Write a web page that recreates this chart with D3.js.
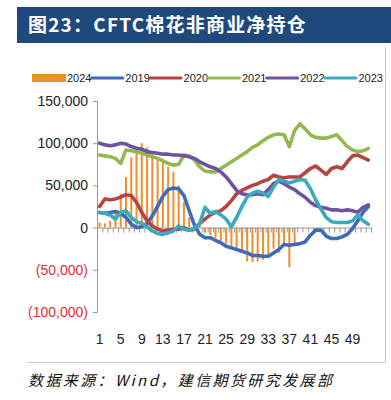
<!DOCTYPE html>
<html>
<head>
<meta charset="utf-8">
<script src="https://cdn.jsdelivr.net/npm/d3@7"></script>
<style>
  body { margin: 0; background: #fff; }
  svg { display: block; }
</style>
</head>
<body>
<svg id="chart" width="391" height="400"></svg>
<script>
// CFTC cotton non-commercial net positions, weeks 1-52
const weeks = d3.range(1, 53);
const weekLabels = [1, 5, 9, 13, 17, 21, 25, 29, 33, 37, 41, 45, 49];
const yTicks = [150000, 100000, 50000, 0, -50000, -100000];

const s2024 = [6000, 5000, 8000, 18000, 40000, 60000, 83000, 96000, 100000, 95000,
  87000, 83000, 78000, 72000, 66000, 50000, 30000, 12000, 4000, 8000,
  -6000, -9000, -12000, -16000, -19000, -24000, -27000, -30000, -40000, -41000,
  -40000, -38000, -32000, -25000, -30000, -22000, -47000, -20000];

const s2019 = [18000, 17000, 18000, 19000, 17000, 12000, 4000, 0, 1000, 5000,
  14000, 25000, 37000, 45000, 47000, 46000, 38000, 20000, 3000, -8000,
  -12000, -12000, -15000, -18000, -22000, -24000, -26000, -28000, -30000, -33000,
  -33000, -34000, -34000, -30000, -26000, -20000, -21000, -20000, -19000, -17000,
  -9000, -3000, -3000, -10000, -13000, -13000, -11000, -8000, -1000, 8000,
  18000, 25000];

const s2020 = [25000, 34000, 33000, 34000, 36000, 39000, 38000, 30000, 18000, 8000,
  2000, -2000, -4000, -3000, -2000, -2000, 0, -3000, -2000, 5000,
  10000, 15000, 18000, 20000, 25000, 32000, 40000, 44000, 47000, 50000,
  52000, 55000, 57000, 62000, 60000, 59000, 60000, 60000, 60000, 65000,
  70000, 73000, 68000, 63000, 70000, 72000, 70000, 78000, 85000, 86000,
  83000, 80000];

const s2021 = [86000, 85000, 84000, 82000, 76000, 92000, 91000, 90000, 88000, 86000,
  84000, 82000, 79000, 76000, 74000, 75000, 86000, 85000, 80000, 72000,
  67000, 66000, 66000, 70000, 74000, 78000, 82000, 86000, 90000, 95000,
  98000, 103000, 107000, 110000, 111000, 110000, 96000, 115000, 123000, 117000,
  110000, 107000, 106000, 106000, 108000, 110000, 103000, 96000, 92000, 90000,
  91000, 94000];

const s2022 = [100000, 98000, 97000, 98000, 100000, 99000, 96000, 94000, 93000, 90000,
  89000, 88000, 87000, 87000, 86000, 86000, 85000, 84000, 82000, 78000,
  75000, 72000, 70000, 66000, 60000, 52000, 44000, 40000, 39000, 39000,
  40000, 39000, 45000, 52000, 55000, 52000, 48000, 45000, 40000, 36000,
  30000, 26000, 24000, 23000, 21000, 21000, 20000, 21000, 20000, 18000,
  24000, 27000];

const s2023 = [18000, 17000, 15000, 10000, 18000, 20000, 12000, 7000, 5000, 1000,
  -4000, -7000, -8000, -6000, -4000, 2000, -2000, -3000, -1000, 5000,
  24000, 17000, 19000, 15000, 10000, 1000, 12000, 25000, 36000, 41000,
  43000, 41000, 37000, 48000, 57000, 55000, 53000, 55000, 57000, 56000,
  46000, 33000, 22000, 12000, 7000, 6000, 6000, 6000, 8000, 15000,
  8000, 4000];

const lineSeries = [
  { name: '2019', values: s2019, color: '#3D6CB9' },
  { name: '2020', values: s2020, color: '#B94340' },
  { name: '2021', values: s2021, color: '#93B852' },
  { name: '2022', values: s2022, color: '#6F549D' },
  { name: '2023', values: s2023, color: '#3AAAC0' },
];
const barColor = '#EE8F2B';

const svg = d3.select('#chart');
const narrow = '"Liberation Sans Narrow", "Arial Narrow", sans-serif';

// ---- title bar ----
svg.append('rect').attr('x', 17).attr('y', 7).attr('width', 374).attr('height', 36)
  .attr('fill', '#1F497D');
svg.append('text').attr('x', 28).attr('y', 32)
  .attr('fill', '#fff').attr('font-size', 19).attr('font-weight', 'bold')
  .attr('letter-spacing', 1.2)
  .attr('font-family', '"Noto Sans CJK SC", sans-serif')
  .text('图23：CFTC棉花非商业净持仓');

// ---- frame ----
svg.append('path').attr('d', 'M27,362.5H385.5V47')
  .attr('fill', 'none').attr('stroke', '#c8c8c8').attr('stroke-width', 1);

// ---- scales ----
const x = d3.scaleBand().domain(weeks).range([97, 371]).padding(0);
const xc = d => x(d) + x.bandwidth() / 2;
const y = d3.scaleLinear().domain([-100000, 150000]).range([312, 101]);

// y axis
const yAxis = svg.append('g').attr('transform', 'translate(97,0)')
  .call(d3.axisLeft(y).tickValues(yTicks).tickSize(4).tickPadding(5)
    .tickFormat(d => d < 0 ? '(' + d3.format(',')(-d) + ')' : d3.format(',')(d)));
yAxis.select('.domain').attr('stroke', '#999');
yAxis.selectAll('.tick line').attr('stroke', '#999');
yAxis.selectAll('.tick text')
  .attr('font-family', narrow).attr('font-size', 14)
  .attr('fill', d => d < 0 ? '#E0303A' : '#222');

// bars (2024)
svg.append('g').selectAll('rect').data(s2024).join('rect')
  .attr('x', (d, i) => xc(weeks[i]) - 1)
  .attr('width', 2)
  .attr('y', d => y(Math.max(0, d)))
  .attr('height', d => Math.abs(y(d) - y(0)))
  .attr('fill', barColor);

// zero axis with category ticks
const xb = d3.scaleLinear().domain([0, 52]).range([97, 371]);
const zAxis = svg.append('g').attr('transform', `translate(0,${y(0)})`)
  .call(d3.axisBottom(xb).tickValues(d3.range(0, 53)).tickSize(5).tickSizeOuter(0).tickFormat(''));
zAxis.select('.domain').attr('stroke', '#999');
zAxis.selectAll('.tick line').attr('stroke', '#999');

// lines
const line = d3.line().x((d, i) => xc(weeks[i])).y(d => y(d)).curve(d3.curveLinear);
svg.append('g').selectAll('path').data(lineSeries).join('path')
  .attr('d', d => line(d.values))
  .attr('fill', 'none')
  .attr('stroke', d => d.color)
  .attr('stroke-width', 3.6)
  .attr('stroke-linejoin', 'round')
  .attr('stroke-linecap', 'round');

// x labels at bottom
const xAxis = svg.append('g').attr('transform', 'translate(0,333)')
  .call(d3.axisBottom(x).tickValues(weekLabels).tickSize(0).tickPadding(1));
xAxis.select('.domain').remove();
xAxis.selectAll('.tick text').attr('font-family', narrow).attr('font-size', 14).attr('fill', '#222');

// legend
const legendItems = [{ name: '2024', color: barColor, bar: true }].concat(lineSeries);
const legend = svg.append('g').selectAll('g').data(legendItems).join('g')
  .attr('transform', (d, i) => `translate(${32 + i * 58.3},78)`);
legend.append('rect')
  .attr('x', 0).attr('width', 34)
  .attr('y', d => d.bar ? -4 : -1.5)
  .attr('height', d => d.bar ? 8 : 3)
  .attr('rx', d => d.bar ? 0 : 1.5)
  .attr('fill', d => d.color);
legend.append('text').attr('x', 35).attr('y', 4)
  .attr('font-family', narrow).attr('font-size', 11).attr('fill', '#222')
  .text(d => d.name);

// source
svg.append('text').attr('x', 28).attr('y', 386)
  .attr('font-size', 15).attr('font-style', 'italic').attr('letter-spacing', 2.4)
  .attr('font-family', '"Noto Sans CJK SC", sans-serif').attr('fill', '#111')
  .text('数据来源：Wind，建信期货研究发展部');
</script>
</body>
</html>
